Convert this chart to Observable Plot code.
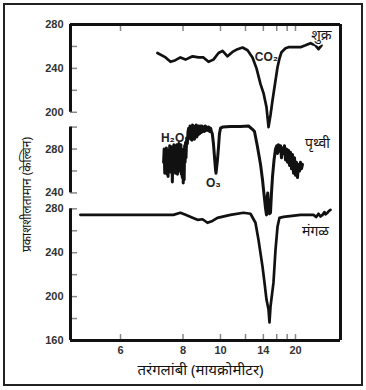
<!DOCTYPE html>
<html>
<head>
<meta charset="utf-8">
<script src="https://cdn.jsdelivr.net/npm/d3@7"></script>
<script src="https://cdn.jsdelivr.net/npm/@observablehq/plot@0.6"></script>
<style>
  html, body { margin: 0; padding: 0; background: #fff; }
  #wrap { position: relative; width: 366px; height: 390px; }
  #border { position: absolute; left: 3px; top: 3px; width: 356px; height: 379px; border: 2px solid #222; pointer-events: none; }
</style>
</head>
<body>
<div id="wrap"><div id="border"></div></div>
<script>
// ---- data (wavelength in micrometres, brightness temperature in kelvin) ----
const venusLambda = [7.04, 7.32, 7.5, 7.69, 7.89, 8.11, 8.43, 8.72, 8.98, 9.26, 9.55, 9.87, 10.14, 10.49, 10.87, 11.28, 11.72, 12.2, 12.71, 13.16, 13.64, 14.02, 14.42, 14.71, 15.0, 15.31, 15.79, 16.13, 16.48, 16.85, 17.65, 18.29, 21.43, 23.08, 25.0, 27.27, 28.85, 30.6];
const venusTemp   = [254, 250, 246, 247.5, 250, 248, 251, 250, 250, 246, 248, 254, 256, 251, 255, 257.5, 259, 256.5, 250, 240, 225.6, 217.5, 204.7, 186.5, 197.5, 211, 229, 241, 249, 254.7, 258.4, 259.3, 259.3, 261, 263, 261, 257.5, 261];

const earthLambda = [
  7.25, 7.27, 7.29, 7.31, 7.33, 7.35, 7.37, 7.39, 7.41, 7.43, 7.45, 7.47, 7.49, 7.51, 7.53, 7.55, 7.57, 7.59, 7.61, 7.63,
  7.65, 7.67, 7.69, 7.71, 7.73, 7.75, 7.77, 7.79, 7.81, 7.83, 7.85, 7.87, 7.89, 7.91, 7.93, 7.95, 7.97, 7.99, 8.01, 8.03,
  8.05, 8.07, 8.09, 8.11, 8.13, 8.16, 8.19, 8.22,
  8.25, 8.28, 8.31, 8.34, 8.37, 8.40, 8.43, 8.46, 8.49, 8.52, 8.55, 8.58, 8.61, 8.64, 8.67, 8.70, 8.74, 8.78, 8.82, 8.86,
  8.90, 8.94, 8.98, 9.03, 9.08, 9.13, 9.18, 9.23, 9.28, 9.33, 9.38, 9.43, 9.48,
  9.55, 9.62, 9.68, 9.71, 9.74, 9.80, 9.87, 9.93, 10.0, 10.14, 10.71, 11.54, 12.3, 12.71, 12.93, 13.27, 13.64, 13.89, 14.02,
  14.29, 14.42, 14.5, 14.6, 14.71, 14.85, 15.0, 15.15, 15.31, 15.55,
  15.79, 16.0, 16.13, 16.3, 16.48, 16.67, 16.85, 17.05, 17.24, 17.44, 17.65, 17.86, 18.07, 18.29, 18.52, 18.75, 18.99, 19.23,
  19.48, 19.74, 20.0, 20.27, 20.55, 20.83, 21.13, 21.43, 21.74, 22.06];
const earthTemp = [
  268, 280, 258, 276, 262, 281, 257, 274, 255, 279, 263, 283, 259, 277, 266, 282, 250, 278, 260, 284,
  264, 283, 258, 281, 262, 284, 257, 280, 263, 285, 260, 282, 266, 284, 257, 280, 254, 278, 249, 276,
  252, 283, 268, 286, 272, 290, 285, 296,
  299, 290, 301, 289, 300, 288, 302, 291, 301, 289, 300, 292, 302, 291, 300, 293, 301, 294, 301, 295,
  301, 296, 300, 296, 301, 297, 300, 297, 300, 296, 299, 296, 294,
  285, 272, 261, 258, 262, 270, 282, 294, 299, 300, 300.5, 300.5, 301, 298, 296, 282, 266, 252, 243,
  226, 220, 235, 240, 228, 221, 222, 240, 255, 270,
  280, 283, 276, 284, 278, 283, 272, 281, 276, 283, 270, 280, 268, 279, 265, 277, 262, 275,
  258, 272, 256, 268, 254, 266, 260, 268, 262, 266];

const marsLambda = [5.17, 6.0, 6.82, 7.61, 7.89, 8.11, 8.43, 8.67, 8.93, 9.2, 9.49, 9.8, 10.71, 11.81, 12.5, 13.04, 13.39, 13.89, 14.15, 14.42, 14.71, 14.85, 15.0, 15.46, 15.79, 16.13, 16.48, 17.24, 21.43, 26.3, 27.6, 28.85, 30.0, 31.25, 32.6, 33.3, 34.9, 36.0, 37.5];
const marsTemp   = [274.5, 274.5, 274.5, 274.5, 276.4, 274.5, 271.8, 270, 270.5, 267.3, 269, 271.8, 274.5, 276.4, 275.5, 267.3, 251.8, 227.3, 212.7, 197.3, 188.2, 176.4, 190.9, 212.7, 242.7, 263.6, 271.8, 272.7, 274.5, 274.5, 272.5, 275.5, 273, 274.5, 277, 275, 276.4, 278, 279.1];

// panel offsets (the three spectra share one stacked vertical scale)
const marsOffset = 0, earthOffset = 54.5, venusOffset = 168;

const xTicksAll = [6, 8, 10, 12, 14, 16, 18, 20];
const xTickLabels = [6, 8, 10, 14, 20];

const marsMajor = [160, 200, 240, 280], marsMinor = [180, 220, 260];
const earthMajor = [240, 280], earthMinor = [260, 300];
const venusMajor = [200, 240, 280], venusMinor = [220, 260];
const marsAxisRange = [160, 280], earthAxisRange = [240, 300], venusAxisRange = [200, 280];

const xTitle = "तरंगलांबी (मायक्रोमीटर)";
const yTitle = "प्रकाशशीलतामान (केल्विन)";

const annotations = [
  {text: "शुक्र", lambda: 30.6, temp: 270, offset: venusOffset, font: "serif"},
  {text: "CO₂", lambda: 14.42, temp: 250, offset: venusOffset, font: "sans"},
  {text: "H₂O", lambda: 7.58, temp: 290, offset: earthOffset, font: "sans"},
  {text: "O₃", lambda: 9.55, temp: 249, offset: earthOffset, font: "sans"},
  {text: "पृथ्वी", lambda: 28.3, temp: 284.6, offset: earthOffset, font: "serif"},
  {text: "मंगळ", lambda: 27.3, temp: 259, offset: marsOffset, font: "serif"}
];

// ---- build ----
const series = (lam, tmp, off) => lam.map((l, i) => ({lambda: l, y: tmp[i] + off}));
const venus = series(venusLambda, venusTemp, venusOffset);
const earth = series(earthLambda, earthTemp, earthOffset);
const mars = series(marsLambda, marsTemp, marsOffset);

const tickLabel = new Map();
const allYTicks = [];
for (const [maj, min, off] of [[marsMajor, marsMinor, marsOffset], [earthMajor, earthMinor, earthOffset], [venusMajor, venusMinor, venusOffset]]) {
  for (const v of maj) { tickLabel.set(v + off, String(v)); allYTicks.push(v + off); }
  for (const v of min) allYTicks.push(v + off);
}
const panelAxes = [
  {y1: marsAxisRange[0] + marsOffset, y2: marsAxisRange[1] + marsOffset},
  {y1: earthAxisRange[0] + earthOffset, y2: earthAxisRange[1] + earthOffset},
  {y1: venusAxisRange[0] + venusOffset, y2: venusAxisRange[1] + venusOffset}
];

const xDomain = [5, 50];
const yDomain = [160, 448];
const ink = "#111";
const sans = "'Liberation Sans', Arial, 'DejaVu Sans', sans-serif";
const deva = "'Noto Sans', 'Noto Serif Devanagari', 'Lohit Devanagari', serif";

const chart = Plot.plot({
  width: 366,
  height: 390,
  marginLeft: 70,
  marginRight: 26,
  marginTop: 24,
  marginBottom: 50,
  style: {fontFamily: sans, background: "transparent"},
  x: {type: "pow", exponent: -1, domain: xDomain},
  y: {domain: yDomain},
  marks: [
    // x tick marks (inward, top and bottom)
    Plot.axisX({anchor: "bottom", ticks: xTicksAll, tickSize: -6, fill: "none", stroke: "#888", strokeWidth: 1.5, label: null}),
    Plot.axisX({anchor: "top", ticks: xTicksAll, tickSize: -6, fill: "none", stroke: "#888", strokeWidth: 1.5, label: null}),
    Plot.axisX({anchor: "bottom", ticks: xTickLabels, tickSize: 0, tickPadding: 6, tickFormat: d => String(d), fontSize: 11, fontWeight: "bold", fill: "#333", label: null}),
    // y tick marks and labels
    Plot.axisY({ticks: allYTicks, tickSize: -7, fill: "none", stroke: "#888", strokeWidth: 1.5, label: null}),
    Plot.axisY({ticks: [...tickLabel.keys()], tickSize: 0, tickPadding: 7, tickFormat: d => tickLabel.get(d), fontSize: 11, fontWeight: "bold", fill: "#333", label: null}),
    // frame
    Plot.ruleY([yDomain[1]], {stroke: ink, strokeWidth: 3}),
    Plot.ruleY([yDomain[0]], {stroke: ink, strokeWidth: 3}),
    Plot.ruleX([xDomain[1]], {stroke: ink, strokeWidth: 3}),
    Plot.ruleX(panelAxes, {x: () => xDomain[0], y1: "y1", y2: "y2", stroke: ink, strokeWidth: 3}),
    // spectra
    Plot.line(venus, {x: "lambda", y: "y", stroke: ink, strokeWidth: 2.7, strokeLinejoin: "round"}),
    Plot.line(earth, {x: "lambda", y: "y", stroke: ink, strokeWidth: 3, strokeLinejoin: "round"}),
    Plot.line(mars, {x: "lambda", y: "y", stroke: ink, strokeWidth: 2.7, strokeLinejoin: "round"}),
    // annotations
    Plot.text(annotations.filter(d => d.font === "sans"), {x: "lambda", y: d => d.temp + d.offset, text: "text", fontSize: 12, fontWeight: "bold", fill: "#222", fontFamily: sans}),
    Plot.text(annotations.filter(d => d.font === "serif"), {x: "lambda", y: d => d.temp + d.offset, text: "text", fontSize: 14, fill: "#111", fontFamily: deva, stroke: "white", strokeWidth: 3, paintOrder: "stroke"}),
    // axis titles
    Plot.text([xTitle], {frameAnchor: "bottom", textAnchor: "middle", dx: -5, dy: 34, fontSize: 15, fill: "#111", fontFamily: deva}),
    Plot.text([yTitle], {frameAnchor: "left", textAnchor: "middle", rotate: -90, dx: -43, dy: 12, fontSize: 12, fill: "#111", fontFamily: deva})
  ]
});
document.getElementById("wrap").prepend(chart);
</script>
</body>
</html>
